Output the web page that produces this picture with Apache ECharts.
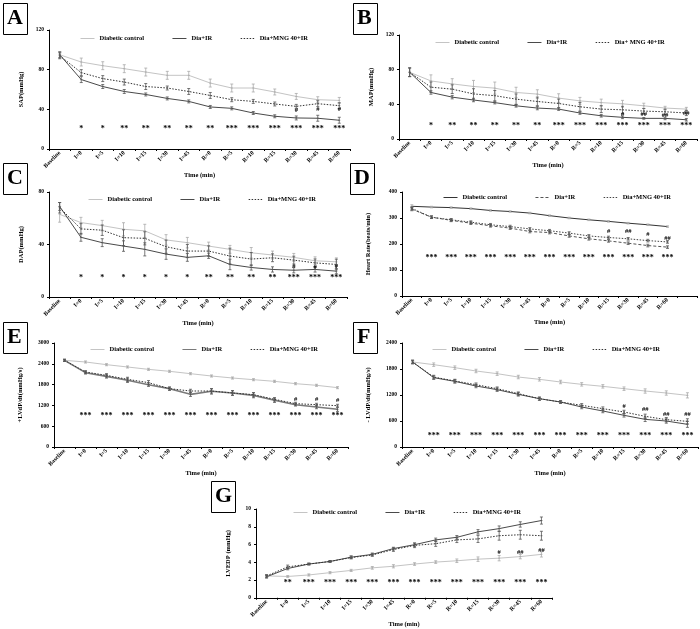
<!DOCTYPE html>
<html><head><meta charset="utf-8">
<script src="https://cdn.jsdelivr.net/npm/echarts@6/dist/echarts.min.js"></script>
<style>html,body{margin:0;padding:0;background:#fff}#c{width:700px;height:629px}#err{position:absolute;left:0;top:600px;font:10px sans-serif;color:red}</style>
</head><body><div id="c"></div><div id="err"></div>
<script>
window.onerror = function(m){ document.getElementById('err').textContent = 'ERR: ' + m; };
const categories = ['Baseline','I=0','I=5','I=10','I=15','I=30','I=45','R=0','R=5','R=10','R=15','R=30','R=45','R=60'];

// Panel A: SAP (mmHg)
const sapCtrl = [95,87.7,84,81,77.6,74.3,74.3,66.5,61.5,61.5,57.5,53,49.7,49];
const sapIR   = [95,70,63,58,55,51,48,42.4,41,36.3,33,31.3,31,29];
const sapMNG  = [94,77,71,67.5,63,61.5,58,54,49.7,48,45.4,43,45.7,43.7];
const sapCtrlErr = [3,4,4,4,4,4,4,4,4,4,3,3,3,3];
const sapIRErr   = [3,3,2,2,1.5,1.5,1.5,1.5,1.5,1.5,1.5,2,3,3];
const sapMNGErr  = [3,3,3,3,3,2,3,3,2,2,2,2,3,3];
const sapStars = ['','*','*','**','**','**','**','**','***','***','***','***','***','***'];
const sapHash = [[11,'#',38.5],[12,'#',40.5],[13,'#',40.5]];

// Panel B: MAP (mmHg)
const mapCtrl = [77,67,63.6,60.6,58.7,53.7,51.8,47.2,44,42,40.6,38.3,35.7,34.5];
const mapIR   = [77,53.7,48.3,45,42,38.3,35.7,34.5,30,26.8,25,23.8,23.8,22.2];
const mapMNG  = [77,59.8,57.5,52,50,46,43.3,41,37.2,34.5,33.7,32.2,31.4,30];
const mapCtrlErr = [5,7,6,7,7,6,5,5,4,4,4,3,2,2];
const mapIRErr   = [5,2,2,2,1.5,1.5,2,1.5,1.5,1.5,1.5,1,1.5,1.5];
const mapMNGErr  = [5,6,5,6,6,6,5,5,5,4,4,3,3,3];
const mapStars = ['','*','**','**','**','**','**','***','***','***','***','***','***','***'];
const mapHash = [[10,'#',29],[11,'##',28.5],[12,'##',27.5],[13,'##',29.5]];

// Panel C: DAP (mmHg)
const dapCtrl = [63,56.7,54.4,51.6,50.4,43.5,41.4,38.8,36.3,33.7,32,30.2,27.6,26.8];
const dapIR   = [69,45.5,41.4,38.8,36.3,32.7,30.2,31.4,24.8,22.5,21,20.4,21,19.7];
const dapMNG  = [68,51.9,50.9,45.2,44.7,38.3,35,35,31.2,28.9,29.9,28.1,26,24.8];
const dapCtrlErr = [6,4,4,5,5,4,4,3,3,4,3,3,3,3];
const dapIRErr   = [3,3,3,4,5,4,3,2,4,2,2,2,2,2];
const dapMNGErr  = [4,4,4,6,5,5,5,4,6,5,3,3,3,4];
const dapStars = ['','*','*','*','*','*','*','**','**','**','**','***','***','***'];
const dapHash = [[11,'#',23.3],[12,'#',22.8],[13,'#',23.3]];

// Panel D: Heart rate (beats/min)
const hrCtrl = [345,342,340,336,329,325,319,309,300,293,287,280,274,267];
const hrIR   = [334,303,291,280,270,261,248,244,231,220,212,203,194,188];
const hrMNG  = [337,303,293,284,274,267,258,251,242,231,225,220,213,208];
const hrCtrlErr = [6,3,3,3,3,3,3,3,3,3,3,3,3,3];
const hrIRErr   = [6,5,5,5,5,5,5,5,5,5,5,5,5,5];
const hrMNGErr  = [6,5,5,5,5,5,5,5,5,5,5,5,5,5];
const hrStars = ['','***','***','***','***','***','***','***','***','***','***','***','***','***'];
const hrHash = [[10,'#',248],[11,'##',248],[12,'#',239],[13,'##',222]];

// Panel E: +LVdP/dt (mmHg/s)
const pdpCtrl = [2500,2452,2375,2308,2240,2183,2115,2048,1990,1942,1894,1827,1779,1712];
const pdpIR   = [2500,2144,2038,1923,1798,1683,1519,1606,1558,1490,1346,1221,1154,1087];
const pdpMNG  = [2500,2163,2067,1952,1856,1683,1615,1615,1558,1510,1375,1250,1221,1192];
const pdpCtrlErr = [30,30,30,30,30,30,30,30,30,30,30,30,30,30];
const pdpIRErr   = [30,40,50,60,50,40,60,80,70,70,60,40,50,60];
const pdpMNGErr  = [30,40,50,60,60,50,50,60,60,60,50,40,40,40];
const pdpStars = ['','***','***','***','***','***','***','***','***','***','***','***','***','***'];
const pdpHash = [[11,'#',1375],[12,'#',1375],[13,'#',1346]];

// Panel F: -LVdP/dt (mmHg/s)
const ndpCtrl = [1962,1900,1831,1754,1692,1615,1562,1500,1446,1400,1346,1292,1246,1192];
const ndpIR   = [1962,1600,1515,1408,1323,1215,1115,1038,923,831,731,638,600,523];
const ndpMNG  = [1962,1615,1523,1438,1346,1231,1115,1038,962,885,808,708,631,592];
const ndpCtrlErr = [40,40,40,40,40,40,40,40,40,40,40,50,50,60];
const ndpIRErr   = [40,40,40,40,40,40,40,30,40,40,40,50,50,70];
const ndpMNGErr  = [40,40,40,40,40,40,30,30,40,40,40,50,50,60];
const ndpStars = ['','***','***','***','***','***','***','***','***','***','***','***','***','***'];
const ndpHash = [[10,'#',950],[11,'##',870],[12,'##',755],[13,'##',755]];

// Panel G: LVEDP (mmHg)
const edpCtrl = [2.46,2.4,2.57,2.83,3.08,3.37,3.55,3.8,4.02,4.17,4.35,4.46,4.64,4.89];
const edpIR   = [2.36,3.3,3.8,4.09,4.57,4.89,5.54,5.98,6.52,6.81,7.43,7.79,8.26,8.7];
const edpMNG  = [2.46,3.48,3.8,4.09,4.53,4.82,5.43,5.9,6.09,6.52,6.63,6.99,7.1,6.99];
const edpCtrlErr = [0.15,0.1,0.12,0.12,0.12,0.15,0.18,0.15,0.15,0.2,0.25,0.3,0.25,0.3];
const edpIRErr   = [0.15,0.15,0.1,0.1,0.15,0.15,0.15,0.2,0.2,0.2,0.25,0.3,0.3,0.4];
const edpMNGErr  = [0.15,0.2,0.1,0.1,0.15,0.15,0.2,0.25,0.3,0.3,0.4,0.5,0.5,0.5];
const edpStars = ['','**','***','***','***','***','***','***','***','***','***','***','***','***'];
const edpHash = [[11,'#',5.1],[12,'##',5.1],[13,'##',5.35]];

const legendNames = ['Diabetic control','Dia+IR','Dia+MNG 40+IR'];
const legendNamesB = ['Diabetic control','Dia+IR','Dia+ MNG 40+IR'];

const FONT = 'Liberation Serif';
const LIGHT = '#c4c4c4', DARK = '#4a4a4a', DOT = '#333333';
const normalStyles = [
  {color: LIGHT, type: 'solid', width: 1},
  {color: DARK, type: 'solid', width: 1},
  {color: DOT, type: [1.5, 1.5], width: 1}
];
const hrStyles = [
  {color: '#333', type: 'solid', width: 1},
  {color: '#555', type: [3, 2], width: 1},
  {color: '#444', type: [1.5, 1.5], width: 1}
];
const eStyles = [
  {color: LIGHT, type: 'solid', width: 1},
  {color: '#7a7a7a', type: 'solid', width: 1.6},
  {color: DOT, type: [1.5, 1.5], width: 1}
];

const panels = [
  {key:'A', yName:'SAP(mmHg)', max:120, interval:40, grid:{left:49, top:30, width:301, height:119},
   series:[sapCtrl,sapIR,sapMNG], errs:[sapCtrlErr,sapIRErr,sapMNGErr], stars:sapStars, starLevel:20, hash:sapHash,
   names:legendNames, styles:normalStyles, legend:{left:75, top:30}, box:[3,3]},
  {key:'B', yName:'MAP(mmHg)', max:120, interval:40, grid:{left:399, top:35, width:298, height:104},
   series:[mapCtrl,mapIR,mapMNG], errs:[mapCtrlErr,mapIRErr,mapMNGErr], stars:mapStars, starLevel:14.6, hash:mapHash,
   names:legendNamesB, styles:normalStyles, legend:{left:430, top:34}, box:[353,3]},
  {key:'C', yName:'DAP(mmHg)', max:80, interval:40, grid:{left:49, top:192, width:298, height:105},
   series:[dapCtrl,dapIR,dapMNG], errs:[dapCtrlErr,dapIRErr,dapMNGErr], stars:dapStars, starLevel:14.6, hash:dapHash,
   names:legendNames, styles:normalStyles, legend:{left:83, top:191}, box:[3,163]},
  {key:'D', yName:'Heart Rate(beats/min)', max:400, interval:100, grid:{left:402, top:192, width:295, height:104}, xMax:14,
   series:[hrCtrl,hrIR,hrMNG], errs:[hrCtrlErr,hrIRErr,hrMNGErr], stars:hrStars, starLevel:148, hash:hrHash,
   names:legendNames, styles:hrStyles, legend:{left:438, top:189}, box:[350,163]},
  {key:'E', yName:'+LVdP/dt(mmHg/s)', max:3000, interval:600, grid:{left:54, top:343, width:294, height:104},
   series:[pdpCtrl,pdpIR,pdpMNG], errs:[pdpCtrlErr,pdpIRErr,pdpMNGErr], stars:pdpStars, starLevel:894, hash:pdpHash,
   names:legendNames, styles:eStyles, legend:{left:85, top:341}, box:[3,322]},
  {key:'F', yName:'- LVdP/dt(mmHg/s)', max:2400, interval:600, grid:{left:402, top:343, width:296, height:104},
   series:[ndpCtrl,ndpIR,ndpMNG], errs:[ndpCtrlErr,ndpIRErr,ndpMNGErr], stars:ndpStars, starLevel:254, hash:ndpHash,
   names:legendNames, styles:normalStyles, legend:{left:427, top:341}, box:[353,322]},
  {key:'G', yName:'LVEDP (mmHg)', max:10, interval:2, grid:{left:256, top:509, width:296, height:92},
   series:[edpCtrl,edpIR,edpMNG], errs:[edpCtrlErr,edpIRErr,edpMNGErr], stars:edpStars, starLevel:1.63, hash:edpHash,
   names:legendNames, styles:normalStyles, legend:{left:288, top:504}, box:[211,481]}
];

const grids=[], xAxes=[], yAxes=[], legends=[], series=[], graphics=[];
const labelFont = {fontFamily: FONT, fontWeight: 'bold', color: '#000'};

function textMarks(i, items, size) {
  return {
    type:'custom', xAxisIndex:i, yAxisIndex:i, animation:false, silent:true, z:5,
    data: items,
    renderItem:(params, api) => {
      const pt = api.coord([api.value(0), api.value(1)]);
      const txt = items[params.dataIndex][2];
      return {type:'text', x:pt[0], y:pt[1],
        style:{text:txt, fill:'#000', font:'bold ' + size + 'px "Liberation Serif"', align:'center', verticalAlign:'middle'}};
    }
  };
}

panels.forEach((p, i) => {
  grids.push(Object.assign({containLabel:false}, p.grid));
  const xa = {
    type:'category', gridIndex:i, data:categories, boundaryGap:true,
    name:'Time (min)', nameLocation:'middle', nameGap:20,
    nameTextStyle:Object.assign({fontSize:6.5}, labelFont),
    axisLine:{lineStyle:{color:'#000', width:1}},
    axisTick:{show:true, length:2, lineStyle:{color:'#000'}},
    axisLabel:Object.assign({rotate:45, fontSize:6, margin:3, interval:0}, labelFont)
  };
  if (p.xMax !== undefined) xa.max = p.xMax;
  xAxes.push(xa);
  yAxes.push({
    type:'value', gridIndex:i, min:0, max:p.max, interval:p.interval,
    name:p.yName, nameLocation:'middle', nameGap:p.key==='D'||p.key==='E'||p.key==='F'?30:24,
    nameTextStyle:Object.assign({fontSize:6.5}, labelFont),
    splitLine:{show:false},
    axisLine:{show:true, lineStyle:{color:'#000', width:1}},
    axisTick:{show:true, length:2, lineStyle:{color:'#000'}},
    axisLabel:Object.assign({fontSize:5.5, margin:5, formatter: v => String(v)}, labelFont)
  });
  legends.push({
    left:p.legend.left, top:p.legend.top, data:p.names.map(n => p.key + '|' + n),
    itemWidth:14, itemHeight:6, itemGap:28, selectedMode:false,
    itemStyle:{opacity:0}, lineStyle:{width:1},
    formatter: n => n.split('|')[1],
    textStyle:Object.assign({fontSize:6.5}, labelFont)
  });
  p.series.forEach((vals, k) => {
    const st = p.styles[k];
    series.push({
      type:'line', name:p.key + '|' + p.names[k], xAxisIndex:i, yAxisIndex:i, data:vals,
      showSymbol:false, symbol:'none', lineStyle:st, itemStyle:{color:st.color},
      z: k===0?2:3, animation:false
    });
    const errData = vals.map((v, j) => [j, v, p.errs[k][j]]);
    series.push({
      type:'custom', xAxisIndex:i, yAxisIndex:i, data:errData, animation:false, z:4, silent:true,
      renderItem:(params, api) => {
        const x = api.value(0), v = api.value(1), e = api.value(2);
        const t = api.coord([x, v + e]), b = api.coord([x, v - e]);
        const c = api.coord([x, v]);
        const s = {stroke: k===0 ? '#aaa' : '#555', lineWidth:0.8};
        return {type:'group', children:[
          {type:'line', shape:{x1:t[0], y1:t[1], x2:b[0], y2:b[1]}, style:s},
          {type:'line', shape:{x1:t[0]-1.5, y1:t[1], x2:t[0]+1.5, y2:t[1]}, style:s},
          {type:'line', shape:{x1:b[0]-1.5, y1:b[1], x2:b[0]+1.5, y2:b[1]}, style:s},
          {type:'line', shape:{x1:c[0]-1, y1:c[1], x2:c[0]+1, y2:c[1]}, style:s}
        ]};
      }
    });
  });
  series.push(textMarks(i, p.stars.map((s, j) => [j, p.starLevel, s]).filter(d => d[2] !== ''), 8));
  series.push(textMarks(i, p.hash.map(h => [h[0], h[2], h[1]]), 6.5));
  graphics.push({type:'rect', left:p.box[0], top:p.box[1], shape:{width:24, height:31},
    style:{fill:'#fff', stroke:'#000', lineWidth:1}});
  graphics.push({type:'text', left:p.box[0]+4, top:p.box[1]+4,
    style:{text:p.key, font:'bold 22px "Liberation Serif"', fill:'#000'}});
});

const chart = echarts.init(document.getElementById('c'), null, {renderer:'canvas'});
try {
  chart.setOption({
    animation:false, backgroundColor:'#fff',
    grid:grids, xAxis:xAxes, yAxis:yAxes, legend:legends, series:series, graphic:graphics
  });
} catch (e) { document.getElementById('err').textContent = 'ERR: ' + e.message; }
</script></body></html>
